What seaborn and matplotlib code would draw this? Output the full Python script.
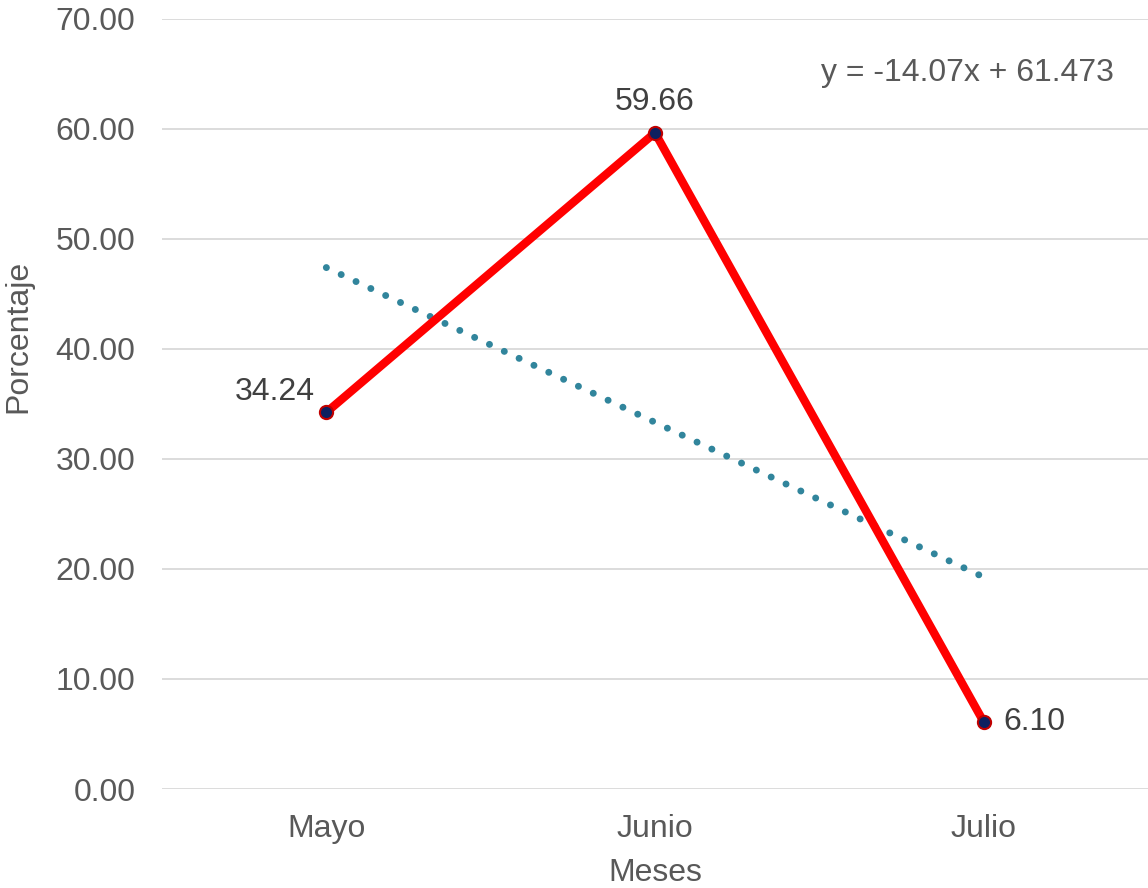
import matplotlib
matplotlib.use("Agg")
import matplotlib.pyplot as plt
import seaborn as sns
import pandas as pd
import numpy as np

meses = ["Mayo", "Junio", "Julio"]
porcentaje = [34.24, 59.66, 6.10]
trend_slope = -14.07
trend_intercept = 61.473
yticks = [0, 10, 20, 30, 40, 50, 60, 70]

sns.set_theme(style="white")
plt.rcParams["font.family"] = ["Liberation Sans", "DejaVu Sans"]

FS = 23

df = pd.DataFrame({"Meses": meses, "Porcentaje": porcentaje})
idx = np.arange(1, len(meses) + 1)
trend = pd.DataFrame({"Meses": meses, "Tendencia": trend_slope * idx + trend_intercept})

fig = plt.figure(figsize=(11.48, 8.88), dpi=100)
ax = fig.add_axes([162 / 1148, 1 - 789 / 888, 1 - 162 / 1148, (789 - 19) / 888])

for t in yticks:
    ax.axhline(t, color="#D9D9D9", lw=1.3, zorder=0)

sns.lineplot(data=trend, x="Meses", y="Tendencia", ax=ax, sort=False,
             color="#31859C", lw=5, linestyle=(0, (0.01, 2.35)),
             dash_capstyle="round", zorder=2)
sns.lineplot(data=df, x="Meses", y="Porcentaje", ax=ax, sort=False,
             color="#FF0000", lw=6, marker="o", markersize=9.5,
             markerfacecolor="#0E2060", markeredgecolor="#C00000",
             markeredgewidth=1.5, zorder=3)

label_cfg = [(-8, 4, "right", "bottom"), (0, 11, "center", "bottom"), (14, 0, "left", "center")]
for i, (m, v) in enumerate(zip(meses, porcentaje)):
    dx, dy, ha, va = label_cfg[i]
    ax.annotate(f"{v:.2f}", (i, v), xytext=(dx, dy), textcoords="offset points",
                ha=ha, va=va, fontsize=FS, color="#404040")

ax.text(0.965, 0.93, f"y = {trend_slope}x + {trend_intercept}", transform=ax.transAxes,
        ha="right", va="center", fontsize=FS, color="#595959")

ax.set_xlim(-0.5, 2.5)
ax.set_ylim(0, 70)
ax.set_yticks(yticks)
ax.set_yticklabels([f"{t:.2f}" for t in yticks])
ax.tick_params(axis="both", labelsize=FS, colors="#595959", length=0)
ax.tick_params(axis="y", pad=19)
ax.tick_params(axis="x", pad=18)
ax.set_xlabel("Meses", fontsize=FS, color="#595959", labelpad=10)
ax.set_ylabel("Porcentaje", fontsize=FS, color="#595959", labelpad=16)
ax.yaxis.label.set_y((789 - 336) / 770)
for s in ax.spines.values():
    s.set_visible(False)
ax.set_facecolor("white")
ax.patch.set_alpha(0)

fig.savefig("out.png", dpi=100)
